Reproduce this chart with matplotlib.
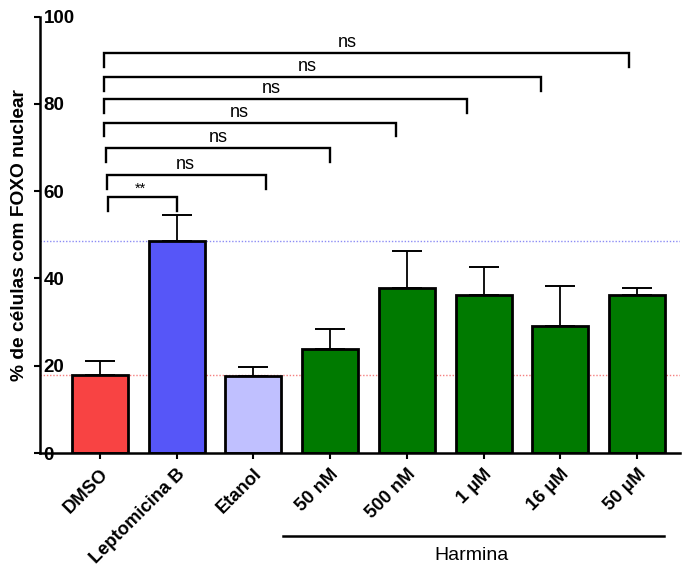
import matplotlib
matplotlib.use("Agg")
import matplotlib.pyplot as plt

plt.rcParams['font.family'] = ['Liberation Sans', 'DejaVu Sans']

categories = ['DMSO', 'Leptomicina B', 'Etanol', '50 nM', '500 nM', '1 µM', '16 µM', '50 µM']
means = [17.8, 48.6, 17.6, 23.9, 37.8, 36.2, 29.2, 36.1]
errors = [3.2, 6.0, 2.1, 4.5, 8.6, 6.4, 9.0, 1.7]
colors = ['#F84343', '#5656F8', '#C0C0FF', '#007A00', '#007A00', '#007A00', '#007A00', '#007A00']

# significance brackets: left x, right x, height, label, label x
br_left = [0.05, 0.05, 0.05, 0.06, 0.08, 0.09, 0.10]
br_right = [6.89, 5.75, 4.79, 3.86, 3.00, 2.16, 1.01]
br_height = [91.6, 86.1, 81.1, 75.7, 69.9, 63.7, 58.6]
br_label = ['ns', 'ns', 'ns', 'ns', 'ns', 'ns', '**']
br_text_x = [3.23, 2.70, 2.23, 1.82, 1.54, 1.11, 0.53]

group_label = 'Harmina'
ylabel = '% de células com FOXO nuclear'
yticks = [0, 20, 40, 60, 80, 100]

fig = plt.figure(figsize=(6.84, 5.68), dpi=100)
ax = fig.add_axes([40/684, 115/568, 640/684, (453-16.7)/568])

x = list(range(len(categories)))
ax.axhline(means[1], color='#8C8CF5', ls=(0, (1, 1.3)), lw=1.0, zorder=0)
ax.axhline(means[0], color='#F57F7F', ls=(0, (1, 1.3)), lw=1.0, zorder=0)

ax.errorbar(x, means, yerr=[[0]*len(means), errors], fmt='none', ecolor='black',
            elinewidth=1.3, capsize=10.5, capthick=1.4, zorder=1)
ax.bar(x, means, width=0.73, color=colors, edgecolor='black', linewidth=2.0, zorder=2)

drop = 3.1
for l, r, h, lab, tx in zip(br_left, br_right, br_height, br_label, br_text_x):
    ax.plot([l, l, r, r], [h - drop, h, h, h - drop], color='black', lw=1.7,
            solid_joinstyle='miter', clip_on=False, zorder=3)
    if lab == '**':
        ax.text(tx, h + 0.3, lab, ha='center', va='bottom', fontsize=10.5)
    else:
        ax.text(tx, h + 0.5, lab, ha='center', va='bottom', fontsize=13)

ax.set_xlim(-0.78, 7.56)
ax.set_ylim(0, 100)
ax.set_yticks(yticks)
ax.set_yticklabels([str(t) for t in yticks], fontweight='bold', fontsize=13.5)
for lab in ax.get_yticklabels():
    lab.set_horizontalalignment('left')
ax.tick_params(axis='y', length=4, width=1.5, direction='out', pad=-6.5)
ax.set_xticks(x)
ax.set_xticklabels(categories, rotation=45, ha='right', rotation_mode='anchor',
                   fontweight='bold', fontsize=13.2)
ax.tick_params(axis='x', length=4, width=1.5, direction='out', pad=5)

for s in ['top', 'right']:
    ax.spines[s].set_visible(False)
for s in ['left', 'bottom']:
    ax.spines[s].set_linewidth(1.8)

ax.set_ylabel(ylabel, fontweight='bold', fontsize=13.8)
ax.yaxis.set_label_coords(-0.019, 0.5)

# Harmina group line
fig.add_artist(plt.Line2D([283/684, 664/684], [1 - 535.7/568, 1 - 535.7/568],
                          color='black', lw=1.8))
fig.text(472/684, 1 - 555.7/568, group_label, ha='center', va='center', fontsize=14)

fig.savefig('out.png', dpi=100)
